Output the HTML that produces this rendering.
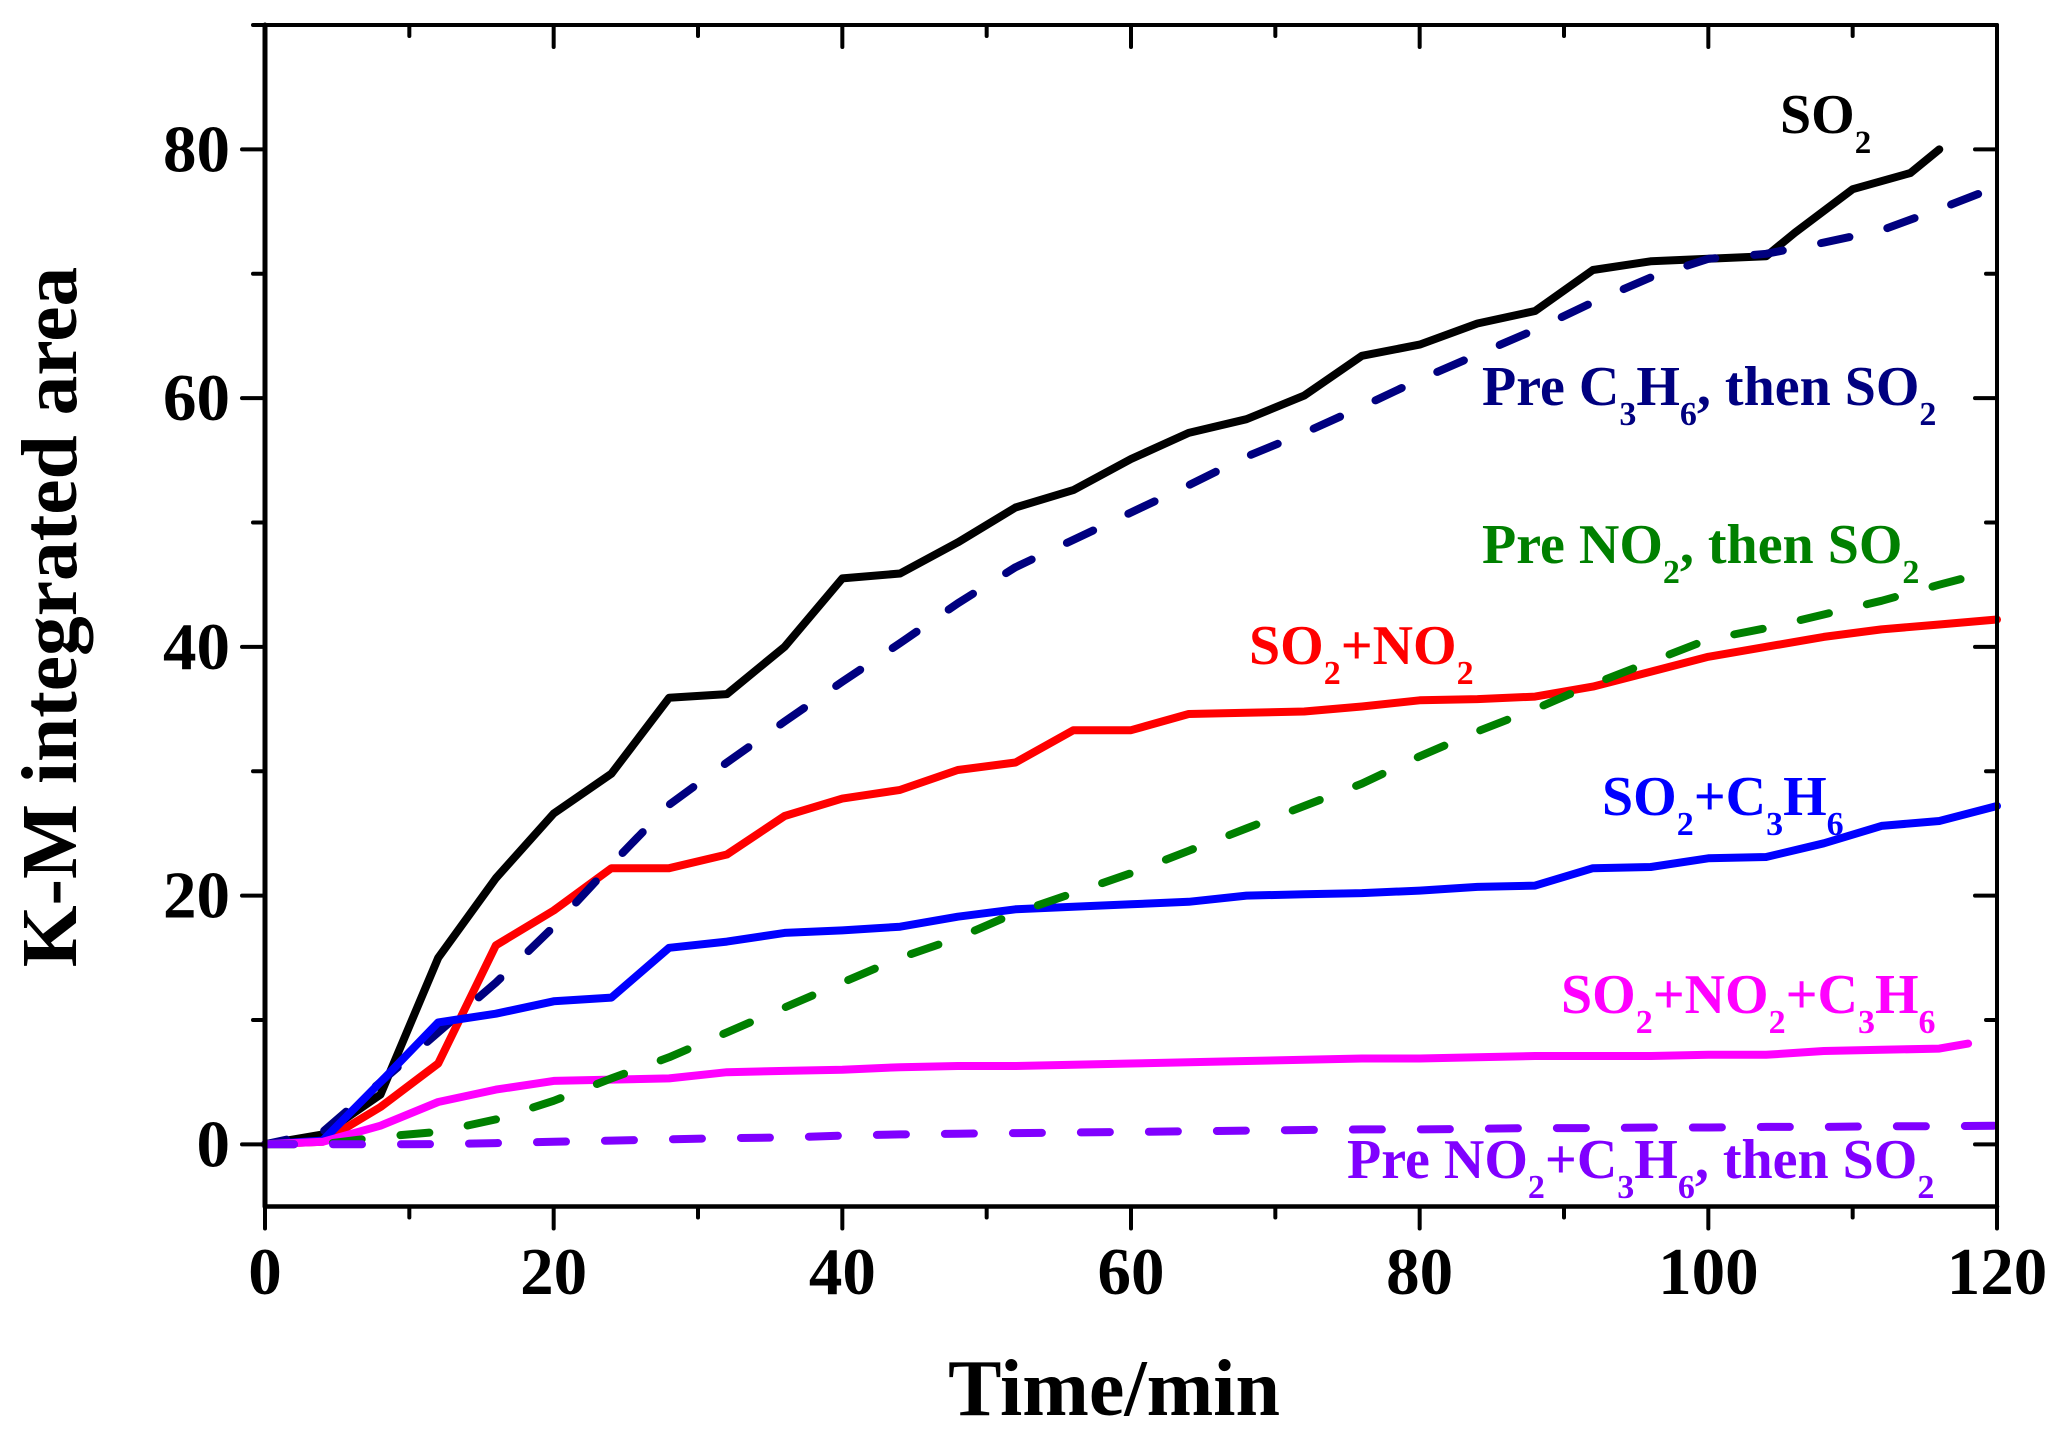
<!DOCTYPE html>
<html>
<head>
<meta charset="utf-8">
<title>K-M integrated area vs time</title>
<style>
html,body{margin:0;padding:0;background:#fff;}
svg{display:block;}
text{font-family:"Liberation Serif","Times New Roman",serif;font-weight:bold;}
</style>
</head>
<body>
<svg id="chart" xmlns="http://www.w3.org/2000/svg" width="2068" height="1441" viewBox="0 0 2068 1441">
  <rect x="0" y="0" width="2068" height="1441" fill="#fff"/>
  <g id="series-layer"></g>
  <g id="axis-layer"></g>
  <text x="1114" y="1415" font-size="80" text-anchor="middle">Time/min</text>
  <text transform="translate(76,617) rotate(-90)" font-size="79.5" text-anchor="middle">K-M integrated area</text>

  <text x="1780" y="133" font-size="56" fill="#000">SO<tspan font-size="33" dy="20">2</tspan></text>
  <text x="1482" y="405" font-size="56" fill="#000080">Pre C<tspan font-size="34" dy="20">3</tspan><tspan dy="-20">H</tspan><tspan font-size="34" dy="20">6</tspan><tspan dy="-20">, then SO</tspan><tspan font-size="34" dy="20">2</tspan></text>
  <text x="1482" y="563" font-size="56" fill="#008000">Pre NO<tspan font-size="34" dy="20">2</tspan><tspan dy="-20">, then SO</tspan><tspan font-size="34" dy="20">2</tspan></text>
  <text x="1249" y="664" font-size="56" fill="#ff0000">SO<tspan font-size="34" dy="20">2</tspan><tspan dy="-20">+NO</tspan><tspan font-size="34" dy="20">2</tspan></text>
  <text x="1602" y="815" font-size="56" fill="#0000ff">SO<tspan font-size="34" dy="20">2</tspan><tspan dy="-20">+C</tspan><tspan font-size="34" dy="20">3</tspan><tspan dy="-20">H</tspan><tspan font-size="34" dy="20">6</tspan></text>
  <text x="1561" y="1013" font-size="56" fill="#ff00ff">SO<tspan font-size="34" dy="20">2</tspan><tspan dy="-20">+NO</tspan><tspan font-size="34" dy="20">2</tspan><tspan dy="-20">+C</tspan><tspan font-size="34" dy="20">3</tspan><tspan dy="-20">H</tspan><tspan font-size="34" dy="20">6</tspan></text>
  <text x="1347" y="1178" font-size="56" fill="#8000ff">Pre NO<tspan font-size="34" dy="20">2</tspan><tspan dy="-20">+C</tspan><tspan font-size="34" dy="20">3</tspan><tspan dy="-20">H</tspan><tspan font-size="34" dy="20">6</tspan><tspan dy="-20">, then SO</tspan><tspan font-size="34" dy="20">2</tspan></text>
</svg>
<script>
// Chart data
const timeCommon = [0,4,8,12,16,20,24,28,32,36,40,44,48,52,56,60,64,68,72,76,80,84,88,92,96,100,104,108,112,116,120];
const timeSo2 = [0,4,8,12,16,20,24,28,32,36,40,44,48,52,56,60,64,68,72,76,80,84,88,92,96,100,104,106,110,114,116];
const timeTriple = [0,4,8,12,16,20,24,28,32,36,40,44,48,52,56,60,64,68,72,76,80,84,88,92,96,100,104,108,112,116,118];

const valuesSo2 = [0,0.8,4,15,21.4,26.6,29.8,35.9,36.2,40,45.5,45.9,48.4,51.2,52.6,55.1,57.2,58.3,60.2,63.4,64.3,66,67,70.3,71,71.2,71.4,73.3,76.8,78.1,80];
const valuesSo2No2 = [0,0.2,3,6.5,16,18.8,22.2,22.2,23.3,26.4,27.8,28.5,30.1,30.7,33.3,33.3,34.6,34.7,34.8,35.2,35.7,35.8,36,36.8,38,39.2,40,40.8,41.4,41.8,42.2];
const valuesPreC3h6 = [0,1,5,9,13,17.5,22.5,27.3,30.7,34,37.2,40.3,43.5,46.4,48.6,50.8,53,55.3,57.2,59.3,61.5,63.5,65.5,67.7,69.7,71.2,71.6,72.5,73.5,75.2,77];
const valuesSo2C3h6 = [0,0.3,5,9.8,10.5,11.5,11.8,15.8,16.3,17,17.2,17.5,18.3,18.9,19.1,19.3,19.5,20,20.1,20.2,20.4,20.7,20.8,22.2,22.3,23,23.1,24.2,25.6,26,27.2];
const valuesTriple = [0,0.2,1.5,3.4,4.4,5.1,5.2,5.3,5.8,5.9,6,6.2,6.3,6.3,6.4,6.5,6.6,6.7,6.8,6.9,6.9,7,7.1,7.1,7.1,7.2,7.2,7.5,7.6,7.7,8.1];
const valuesPreNo2 = [0,0,0.6,1,2,3.5,5.3,7,9,11,13,15,16.6,18.6,20.2,21.8,23.6,25.4,27.2,29,31.2,33.2,35,37,38.8,40.6,41.5,42.6,43.7,45,46.2];
const valuesPreBoth = [0,0,0,0.02,0.1,0.2,0.3,0.4,0.5,0.55,0.7,0.8,0.85,0.9,0.95,1,1.05,1.1,1.15,1.2,1.2,1.25,1.3,1.3,1.35,1.35,1.4,1.4,1.45,1.45,1.5];

const xMajorTicks = [0,20,40,60,80,100,120];
const xMinorTicks = [10,30,50,70,90,110];
const yMajorTicks = [0,20,40,60,80];
const yMinorTicks = [10,30,50,70,90];

const SVG_NS = 'http://www.w3.org/2000/svg';
const plot = {left:265, right:1997, top:25, bottom:1206.5};
const xDomain = [0,120];
const yDomain = [-5,90];

function xScale(v){ return plot.left + (v-xDomain[0])/(xDomain[1]-xDomain[0])*(plot.right-plot.left); }
function yScale(v){ return plot.bottom - (v-yDomain[0])/(yDomain[1]-yDomain[0])*(plot.bottom-plot.top); }

const seriesLayer = document.getElementById('series-layer');
const axisLayer = document.getElementById('axis-layer');

function drawSeries(name, xs, ys, color, dashed, offset){
  const p = document.createElementNS(SVG_NS,'polyline');
  
  
  p.setAttribute('points', xs.map((x,i)=>xScale(x).toFixed(1)+','+yScale(ys[i]).toFixed(1)).join(' '));
  p.setAttribute('fill','none');
  p.setAttribute('stroke',color);
  p.setAttribute('stroke-width','8');
  p.setAttribute('stroke-linejoin','round');
  p.setAttribute('stroke-linecap','round');
  if(dashed){
    p.setAttribute('stroke-dasharray','29 39');
    p.setAttribute('stroke-dashoffset',offset||0);
  }
  seriesLayer.appendChild(p);
}

drawSeries('series-so2', timeSo2, valuesSo2, '#000000', false);
drawSeries('series-so2-no2', timeCommon, valuesSo2No2, '#ff0000', false);
drawSeries('series-pre-c3h6', timeCommon, valuesPreC3h6, '#000080', true, 7);
drawSeries('series-so2-c3h6', timeCommon, valuesSo2C3h6, '#0000ff', false);
drawSeries('series-so2-no2-c3h6', timeTriple, valuesTriple, '#ff00ff', false);
drawSeries('series-pre-no2', timeCommon, valuesPreNo2, '#008000', true);
drawSeries('series-pre-no2-c3h6', timeCommon, valuesPreBoth, '#8000ff', true);

function axisLine(name, x1, y1, x2, y2, w){
  const l = document.createElementNS(SVG_NS,'line');
  
  
  l.setAttribute('x1',x1); l.setAttribute('y1',y1);
  l.setAttribute('x2',x2); l.setAttribute('y2',y2);
  l.setAttribute('stroke','#000');
  l.setAttribute('stroke-width',w);
  l.setAttribute('stroke-linecap','round');
  axisLayer.appendChild(l);
}

axisLine('axis-left', plot.left, plot.top, plot.left, plot.bottom, 5);
axisLine('axis-right', plot.right, plot.top, plot.right, plot.bottom, 4);
axisLine('axis-top', plot.left, plot.top, plot.right, plot.top, 4);
axisLine('axis-bottom', plot.left, plot.bottom, plot.right, plot.bottom, 4.5);

xMajorTicks.forEach(v=>{
  const x = xScale(v);
  axisLine('x-major-tick', x, plot.bottom, x, plot.bottom+22, 4);
  if(v>0 && v<120){ axisLine('x-top-major-tick', x, plot.top, x, plot.top+22, 4); }
  const t = document.createElementNS(SVG_NS,'text');
  
  
  t.setAttribute('x',x); t.setAttribute('y',1294);
  t.setAttribute('font-size','67'); t.setAttribute('text-anchor','middle');
  t.textContent = v;
  axisLayer.appendChild(t);
});
xMinorTicks.forEach(v=>{
  const x = xScale(v);
  axisLine('x-minor-tick', x, plot.bottom, x, plot.bottom+11, 4);
  axisLine('x-top-minor-tick', x, plot.top, x, plot.top+11, 4);
});
yMajorTicks.forEach(v=>{
  const y = yScale(v);
  axisLine('y-major-tick', plot.left, y, plot.left-23, y, 4);
  axisLine('y-right-major-tick', plot.right, y, plot.right-22, y, 4);
  const t = document.createElementNS(SVG_NS,'text');
  
  
  t.setAttribute('x',230); t.setAttribute('y',y+22);
  t.setAttribute('font-size','67'); t.setAttribute('text-anchor','end');
  t.textContent = v;
  axisLayer.appendChild(t);
});
yMinorTicks.forEach(v=>{
  const y = yScale(v);
  axisLine('y-minor-tick', plot.left, y, plot.left-12, y, 4);
  if(v<90){ axisLine('y-right-minor-tick', plot.right, y, plot.right-11, y, 4); }
});
</script>
</body>
</html>
